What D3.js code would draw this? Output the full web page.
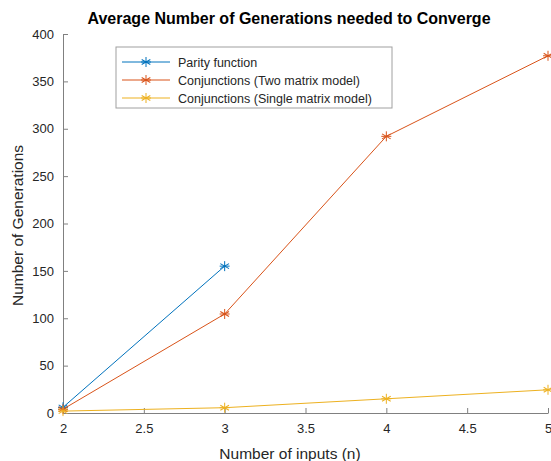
<!DOCTYPE html>
<html>
<head>
<meta charset="utf-8">
<script src="https://cdn.jsdelivr.net/npm/d3@7"></script>
<style>
  body { margin: 0; background: #fff; }
  svg { font-family: "Liberation Sans", Arial, sans-serif; }
</style>
</head>
<body>
<svg id="chart" width="551" height="461"></svg>
<script>
// chart values
const inputs = [2, 3, 4, 5];
const parity = [6, 155];
const twoMatrix = [4, 104.5, 292, 377];
const singleMatrix = [2, 5.6, 15, 24.5];
const seriesNames = [
  "Parity function",
  "Conjunctions (Two matrix model)",
  "Conjunctions (Single matrix model)"
];
const seriesColors = ["#0072BD", "#D95319", "#EDB120"];
const xTicks = [2, 2.5, 3, 3.5, 4, 4.5, 5];
const yTicks = [0, 50, 100, 150, 200, 250, 300, 350, 400];

const series = [parity, twoMatrix, singleMatrix].map((vals, i) => ({
  name: seriesNames[i],
  color: seriesColors[i],
  points: vals.map((v, j) => ({ x: inputs[j], y: v }))
}));

const margin = { top: 34, right: 3, bottom: 48, left: 63 };
const width = 551 - margin.left - margin.right;
const height = 461 - margin.top - margin.bottom;

const svg = d3.select("#chart");
const g = svg.append("g")
  .attr("transform", "translate(" + margin.left + "," + margin.top + ")");

const x = d3.scaleLinear().domain([2, 5]).range([0, width]);
const y = d3.scaleLinear().domain([0, 400]).range([height, 0]);

// axes, ticks pointing inward like matlab
const axisColor = "#808080";
const textColor = "#262626";

const xAxis = g.append("g")
  .attr("transform", "translate(0," + height + ")")
  .call(d3.axisBottom(x).tickValues(xTicks).tickSizeInner(-5).tickSizeOuter(0)
    .tickPadding(11).tickFormat(d3.format("")));
const yAxis = g.append("g")
  .call(d3.axisLeft(y).tickValues(yTicks).tickSizeInner(-5).tickSizeOuter(0)
    .tickPadding(9));

[xAxis, yAxis].forEach(a => {
  a.select(".domain").attr("stroke", axisColor);
  a.selectAll(".tick line").attr("stroke", axisColor);
  a.selectAll(".tick text").attr("fill", textColor).style("font-size", "13px");
});

// lines
const line = d3.line().x(d => x(d.x)).y(d => y(d.y));

g.selectAll(".series")
  .data(series)
  .enter()
  .append("path")
  .attr("class", "series")
  .attr("d", d => line(d.points))
  .attr("fill", "none")
  .attr("stroke", d => d.color)
  .attr("stroke-width", 1);

// asterisk markers
function asterisk(sel, r) {
  [0, 60, 120].forEach(a => {
    sel.append("line")
      .attr("x1", 0).attr("y1", -r).attr("x2", 0).attr("y2", r)
      .attr("transform", "rotate(" + a + ")");
  });
  sel.append("line").attr("x1", -r).attr("y1", 0).attr("x2", r).attr("y2", 0);
}

series.forEach(s => {
  s.points.forEach(p => {
    const m = g.append("g")
      .attr("transform", "translate(" + x(p.x) + "," + y(p.y) + ")")
      .attr("stroke", s.color)
      .attr("stroke-width", 1);
    asterisk(m, 5);
  });
});

// title
svg.append("text")
  .attr("x", 289)
  .attr("y", 24)
  .attr("text-anchor", "middle")
  .style("font-size", "16px")
  .style("font-weight", "bold")
  .attr("fill", "#000")
  .text("Average Number of Generations needed to Converge");

// axis labels
svg.append("text")
  .attr("x", 290)
  .attr("y", 459)
  .attr("text-anchor", "middle")
  .style("font-size", "15.5px")
  .attr("fill", textColor)
  .text("Number of inputs (n)");

svg.append("text")
  .attr("transform", "translate(23," + (margin.top + height / 2 + 2) + ") rotate(-90)")
  .attr("text-anchor", "middle")
  .style("font-size", "15.5px")
  .attr("fill", textColor)
  .text("Number of Generations");

// legend
const legend = svg.append("g").attr("transform", "translate(116,47)");
legend.append("rect")
  .attr("width", 276)
  .attr("height", 61)
  .attr("fill", "#fff")
  .attr("stroke", "#a0a0a0")
  .attr("stroke-width", 1);

series.forEach((s, i) => {
  const row = legend.append("g").attr("transform", "translate(0," + (15 + i * 18) + ")");
  row.append("line")
    .attr("x1", 6).attr("x2", 54)
    .attr("stroke", s.color)
    .attr("stroke-width", 1);
  const m = row.append("g")
    .attr("transform", "translate(30,0)")
    .attr("stroke", s.color);
  asterisk(m, 5);
  row.append("text")
    .attr("x", 62)
    .attr("y", 4.5)
    .style("font-size", "12.5px")
    .attr("fill", textColor)
    .text(s.name);
});
</script>
</body>
</html>
